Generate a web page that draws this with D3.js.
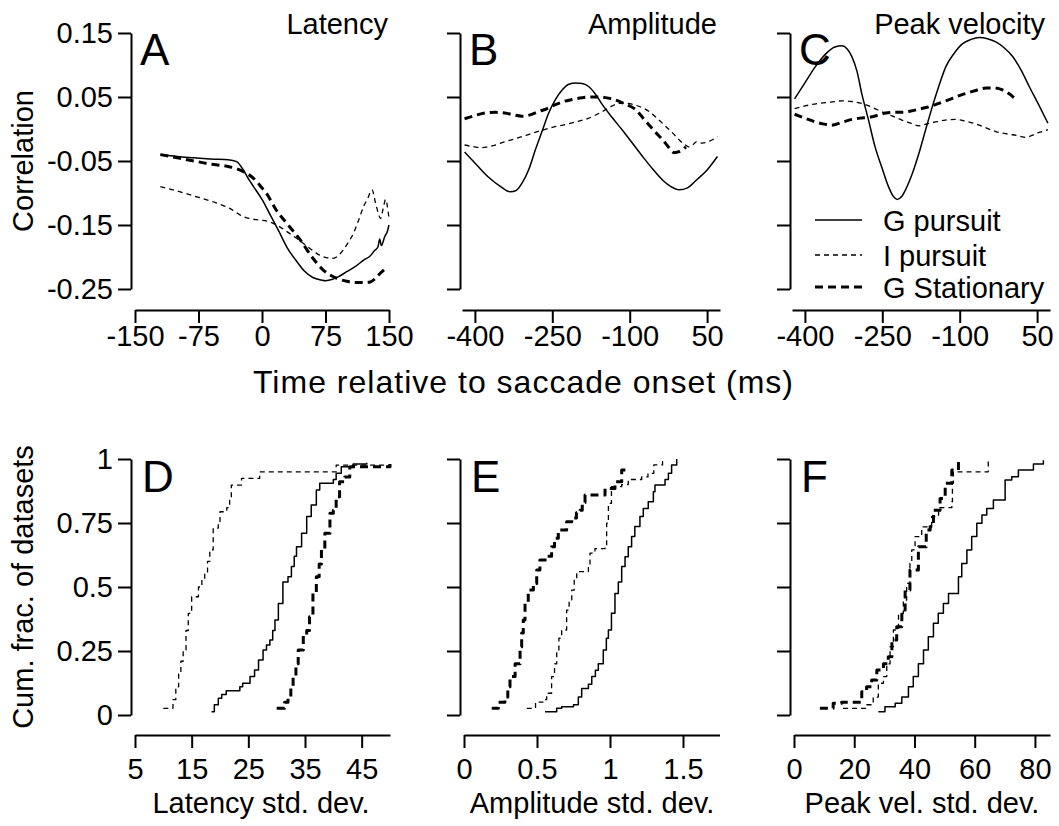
<!DOCTYPE html>
<html><head><meta charset="utf-8">
<script src="https://cdn.jsdelivr.net/npm/d3@7"></script>
<style>
body{margin:0;background:#fff;}
svg{display:block;font-family:"Liberation Sans",Arial,Helvetica,sans-serif;}
</style></head>
<body>
<svg id="chart" width="1059" height="826"></svg>
<script>
// ---------- Panel A: Latency correlation ----------
const aG_t = [-120,-100,-80,-60,-40,-30,-22,-15,-10,0,10,20,30,40,50,60,70,75,80,90,100,110,120,128,133,137,139,141,145,148,150];
const aG_r = [-0.040,-0.043,-0.045,-0.047,-0.048,-0.051,-0.064,-0.080,-0.090,-0.110,-0.135,-0.160,-0.186,-0.205,-0.222,-0.232,-0.236,-0.237,-0.236,-0.231,-0.223,-0.215,-0.205,-0.198,-0.190,-0.184,-0.172,-0.182,-0.168,-0.160,-0.150];
const aI_t = [-120,-100,-77,-55,-38,-22,-10,9,20,29,40,49,60,68,76,84,90,96,102,108,114,120,125,130,134,137,140,143,146,148,150];
const aI_r = [-0.090,-0.097,-0.106,-0.115,-0.124,-0.137,-0.141,-0.145,-0.152,-0.160,-0.170,-0.179,-0.190,-0.197,-0.201,-0.202,-0.198,-0.189,-0.177,-0.163,-0.143,-0.121,-0.108,-0.095,-0.115,-0.130,-0.140,-0.125,-0.110,-0.120,-0.140];
const aS_t = [-120,-100,-80,-60,-42,-30,-20,-10,0,5,17,29,45,59,72,88,100,112,120,128,135,140,145];
const aS_r = [-0.040,-0.045,-0.050,-0.055,-0.058,-0.062,-0.068,-0.077,-0.092,-0.100,-0.127,-0.147,-0.173,-0.200,-0.220,-0.233,-0.238,-0.240,-0.240,-0.239,-0.232,-0.225,-0.219];

// ---------- Panel B: Amplitude correlation ----------
const bG_t = [-420,-400,-374,-350,-332,-320,-309,-295,-283,-270,-257,-244,-231,-218,-205,-192,-179,-166,-153,-134,-114,-95,-75,-55,-36,-20,-4,12,29,50,70];
const bG_r = [-0.036,-0.053,-0.075,-0.090,-0.098,-0.096,-0.085,-0.062,-0.033,-0.004,0.025,0.046,0.061,0.070,0.072,0.071,0.066,0.054,0.038,0.018,-0.002,-0.022,-0.043,-0.063,-0.080,-0.090,-0.095,-0.092,-0.080,-0.064,-0.043];
const bI_t = [-420,-400,-387,-365,-342,-325,-309,-290,-270,-248,-225,-200,-179,-163,-147,-134,-121,-105,-88,-75,-62,-46,-30,-17,-4,6,15,22,29,40,52,62,70];
const bI_r = [-0.025,-0.028,-0.029,-0.026,-0.020,-0.016,-0.012,-0.007,-0.002,0.003,0.007,0.012,0.017,0.023,0.030,0.036,0.040,0.040,0.037,0.033,0.027,0.016,0.004,-0.006,-0.017,-0.024,-0.028,-0.025,-0.020,-0.022,-0.020,-0.016,-0.012];
const bS_t = [-420,-400,-380,-360,-342,-325,-309,-293,-277,-260,-244,-228,-212,-192,-173,-160,-147,-130,-114,-100,-88,-75,-62,-50,-36,-25,-14,-3,9];
const bS_r = [0.016,0.021,0.025,0.026,0.025,0.022,0.020,0.022,0.027,0.032,0.038,0.043,0.046,0.049,0.050,0.050,0.049,0.046,0.041,0.036,0.030,0.018,0.006,-0.005,-0.017,-0.028,-0.037,-0.035,-0.028];

// ---------- Panel C: Peak velocity correlation ----------
const cG_t = [-420,-400,-380,-360,-342,-328,-318,-309,-299,-290,-277,-264,-250,-238,-228,-221,-213,-205,-192,-179,-166,-153,-140,-127,-111,-95,-78,-62,-46,-30,-14,3,19,35,53,71];
const cG_r = [0.047,0.072,0.097,0.117,0.128,0.130,0.125,0.113,0.090,0.056,0.015,-0.028,-0.062,-0.090,-0.106,-0.110,-0.106,-0.095,-0.070,-0.038,-0.001,0.035,0.068,0.097,0.118,0.133,0.140,0.143,0.141,0.136,0.127,0.113,0.092,0.066,0.038,0.009];
const cI_t = [-420,-400,-374,-350,-328,-310,-290,-270,-251,-230,-212,-195,-179,-163,-147,-128,-108,-88,-69,-50,-30,-14,3,15,29,40,48,60,71];
const cI_r = [0.032,0.036,0.040,0.042,0.044,0.043,0.040,0.034,0.027,0.020,0.014,0.009,0.005,0.008,0.011,0.014,0.015,0.012,0.008,0.002,-0.004,-0.007,-0.009,-0.011,-0.013,-0.010,-0.007,-0.004,-0.001];
const cS_t = [-420,-400,-380,-365,-348,-330,-309,-293,-277,-260,-244,-228,-212,-195,-179,-163,-147,-130,-114,-98,-82,-66,-49,-33,-17,-4,9];
const cS_r = [0.023,0.017,0.011,0.008,0.006,0.010,0.015,0.017,0.018,0.021,0.025,0.026,0.026,0.028,0.031,0.034,0.038,0.043,0.048,0.053,0.057,0.061,0.064,0.064,0.061,0.055,0.046];

// ---------- Panel D: Latency std. dev. cumulative fractions ----------
const dG_x = [18.5,19.0,19.7,20.3,21.1,23.5,24.0,25.3,26.1,26.8,27.6,28.2,28.8,29.3,29.7,30.3,31.1,32.0,32.6,33.1,33.5,34.4,35.3,36.1,37.0,37.6,40.0,40.5,41.4,43.5,45.9];
const dG_f = [0.013,0.04,0.065,0.08,0.095,0.11,0.124,0.15,0.176,0.215,0.254,0.273,0.293,0.33,0.371,0.436,0.52,0.54,0.58,0.62,0.657,0.71,0.775,0.82,0.879,0.905,0.92,0.944,0.97,0.98,0.985];
const dI_x = [10.0,11.7,12.2,12.7,13.1,13.5,14.0,14.4,15.0,16.2,16.8,17.3,17.8,18.2,18.8,19.7,20.0,21.2,21.7,22.0,23.8,27.0,40.5,50];
const dI_f = [0.026,0.06,0.11,0.16,0.21,0.254,0.33,0.397,0.462,0.50,0.53,0.553,0.60,0.645,0.73,0.75,0.794,0.81,0.85,0.898,0.924,0.95,0.976,0.976];
const dS_x = [30.0,31.4,32.0,32.5,32.9,33.4,33.8,34.7,35.3,35.8,36.4,37.0,37.5,37.9,38.5,39.4,40.0,40.5,41.1,42.0,42.9,50];
const dS_f = [0.026,0.05,0.07,0.11,0.15,0.20,0.254,0.31,0.33,0.384,0.475,0.54,0.59,0.645,0.71,0.788,0.80,0.853,0.911,0.93,0.97,0.98];

// ---------- Panel E: Amplitude std. dev. cumulative fractions ----------
const eG_x = [0.555,0.635,0.669,0.75,0.783,0.806,0.852,0.875,0.9,0.92,0.954,0.975,0.989,1.01,1.034,1.057,1.08,1.103,1.125,1.148,1.17,1.205,1.228,1.262,1.297,1.308,1.377,1.4,1.422,1.457];
const eG_f = [0.013,0.026,0.032,0.04,0.07,0.104,0.12,0.15,0.175,0.2,0.254,0.3,0.332,0.397,0.475,0.52,0.58,0.618,0.657,0.697,0.736,0.775,0.807,0.833,0.872,0.898,0.92,0.944,0.977,1.0];
const eI_x = [0.43,0.49,0.54,0.566,0.6,0.62,0.635,0.65,0.669,0.703,0.72,0.738,0.755,0.772,0.852,0.863,0.897,0.966,0.977,0.989,1.01,1.08,1.125,1.217,1.26,1.3,1.36,1.37];
const eI_f = [0.026,0.05,0.06,0.085,0.15,0.2,0.254,0.3,0.332,0.41,0.45,0.488,0.53,0.56,0.585,0.632,0.65,0.66,0.749,0.827,0.892,0.90,0.92,0.93,0.944,0.977,0.99,1.0];
const eS_x = [0.19,0.235,0.28,0.30,0.315,0.35,0.384,0.395,0.406,0.418,0.44,0.475,0.498,0.52,0.566,0.6,0.62,0.646,0.703,0.738,0.77,0.795,0.81,0.829,0.966,1.034,1.08,1.125];
const eS_f = [0.026,0.05,0.07,0.11,0.15,0.20,0.267,0.32,0.371,0.436,0.488,0.514,0.566,0.605,0.62,0.657,0.69,0.723,0.755,0.77,0.79,0.80,0.83,0.859,0.885,0.911,0.957,0.957];

// ---------- Panel F: Peak vel. std. dev. cumulative fractions ----------
const fG_x = [28.0,30.2,33.6,35.8,38.0,39.6,41.3,43.0,44.6,46.3,47.9,49.6,51.3,54.6,55.7,57.4,59.0,60.7,62.4,64.0,66.2,70.1,72.3,74.5,79.5,82.8];
const fG_f = [0.013,0.032,0.046,0.07,0.11,0.15,0.2,0.254,0.306,0.358,0.397,0.436,0.475,0.54,0.592,0.645,0.697,0.749,0.781,0.807,0.84,0.918,0.931,0.957,0.98,0.995];
const fI_x = [16.3,24.2,26.3,28.0,29.7,30.8,31.9,33.0,34.7,36.3,37.4,38.5,39.1,40.2,42.4,45.7,48.0,52.4,52.6,52.9,64.5];
const fI_f = [0.026,0.04,0.07,0.124,0.15,0.2,0.267,0.332,0.397,0.449,0.514,0.592,0.645,0.697,0.735,0.775,0.81,0.833,0.905,0.95,0.99];
const fS_x = [8.6,13.0,15.8,22.5,24.1,25.8,27.5,29.7,31.3,32.5,34.1,35.8,36.9,38.5,41.3,43.9,45.2,46.3,48.5,50.2,52.4,54.6];
const fS_f = [0.026,0.046,0.05,0.091,0.11,0.137,0.176,0.20,0.228,0.293,0.345,0.41,0.488,0.566,0.657,0.723,0.736,0.80,0.846,0.905,0.957,0.99];

// ---------- Ticks and labels ----------
const corrTicks = [-0.25,-0.15,-0.05,0.05,0.15];
const latTimeTicks = [-150,-75,0,75,150];
const timeTicks = [-400,-250,-100,50];
const fracTicks = [0,0.25,0.5,0.75,1];
const latSdTicks = [5,15,25,35,45];
const ampSdTicks = [0,0.5,1,1.5];
const velSdTicks = [0,20,40,60,80];
const seriesNames = ["G pursuit","I pursuit","G Stationary"];
const panelLetters = ["A","B","C","D","E","F"];
const panelTitles = ["Latency","Amplitude","Peak velocity"];
const bottomTitles = ["Latency std. dev.","Amplitude std. dev.","Peak vel. std. dev."];

// ---------- Drawing ----------
const svg = d3.select("#chart");
const FONT = 29;
const styles = [
  {w:1.5, dash:null},
  {w:1.3, dash:"5,4"},
  {w:3, dash:"8,5"}
];

function fmtTick(v){
  if (v === 0) return "0";
  if (v === 1) return "1";
  return String(v);
}

function drawAxes(xs, ys, xTicks, yTicks, xAxisY, yAxisX, showYLabels, xPad){
  const gx = svg.append("g").attr("transform", `translate(0,${xAxisY})`)
    .call(d3.axisBottom(xs).tickValues(xTicks).tickSize(13).tickSizeOuter(0).tickPadding(xPad).tickFormat(fmtTick));
  const gy = svg.append("g").attr("transform", `translate(${yAxisX},0)`)
    .call(d3.axisLeft(ys).tickValues(yTicks).tickSize(13).tickSizeOuter(0).tickPadding(5)
      .tickFormat(showYLabels ? fmtTick : () => ""));
  [gx, gy].forEach(g => {
    g.select(".domain").attr("stroke", "#000").attr("stroke-width", 2);
    g.selectAll(".tick line").attr("stroke", "#000").attr("stroke-width", 2);
    g.selectAll(".tick text").attr("fill", "#000").style("font-size", FONT + "px")
      .style("font-family", '"Liberation Sans",Arial,Helvetica,sans-serif');
  });
}

function drawSeries(xs, ys, xv, yv, st, curve){
  const pts = xv.map((x, i) => [x, yv[i]]);
  const line = d3.line().x(d => xs(d[0])).y(d => ys(d[1])).curve(curve);
  svg.append("path").attr("d", line(pts)).attr("fill", "none")
    .attr("stroke", "#000").attr("stroke-width", st.w)
    .attr("stroke-dasharray", st.dash).attr("stroke-linejoin", "round");
}

// Top row
const yCorr = d3.scaleLinear().domain([-0.25, 0.15]).range([289, 33]);
const topX = [
  d3.scaleLinear().domain([-150, 150]).range([135, 389]),
  d3.scaleLinear().domain([-425, 75]).range([462, 720]),
  d3.scaleLinear().domain([-425, 75]).range([792, 1050])
];
const topYAxisX = [131, 460, 790];
const topData = [
  [[aG_t,aG_r],[aI_t,aI_r],[aS_t,aS_r]],
  [[bG_t,bG_r],[bI_t,bI_r],[bS_t,bS_r]],
  [[cG_t,cG_r],[cI_t,cI_r],[cS_t,cS_r]]
];
const topTicks = [latTimeTicks, timeTicks, timeTicks];
const titleRight = [388, 717, 1045];
for (let p = 0; p < 3; p++){
  drawAxes(topX[p], yCorr, topTicks[p], corrTicks, 310, topYAxisX[p], p === 0, 2);
  topData[p].forEach((s, k) => drawSeries(topX[p], yCorr, s[0], s[1], styles[k], d3.curveMonotoneX));
  svg.append("text").attr("x", titleRight[p]).attr("y", 34).attr("text-anchor", "end")
    .style("font-size", FONT + "px").text(panelTitles[p]);
  svg.append("text").attr("x", topYAxisX[p] + 9).attr("y", 65)
    .style("font-size", "44px").text(panelLetters[p]);
}

// Bottom row
const yFrac = d3.scaleLinear().domain([0, 1]).range([715, 459]);
const botX = [
  d3.scaleLinear().domain([5, 50]).range([135, 390]),
  d3.scaleLinear().domain([0, 1.75]).range([464, 719.5]),
  d3.scaleLinear().domain([0, 85]).range([794, 1050])
];
const botYAxisX = [131, 460, 790];
const botData = [
  [[dG_x,dG_f],[dI_x,dI_f],[dS_x,dS_f]],
  [[eG_x,eG_f],[eI_x,eI_f],[eS_x,eS_f]],
  [[fG_x,fG_f],[fI_x,fI_f],[fS_x,fS_f]]
];
const botTicks = [latSdTicks, ampSdTicks, velSdTicks];
const botTitleX = [261, 592, 922];
for (let p = 0; p < 3; p++){
  drawAxes(botX[p], yFrac, botTicks[p], fracTicks, 735, botYAxisX[p], p === 0, 10);
  botData[p].forEach((s, k) => drawSeries(botX[p], yFrac, s[0], s[1], styles[k], d3.curveStepAfter));
  svg.append("text").attr("x", botYAxisX[p] + 11).attr("y", 492)
    .style("font-size", "44px").text(panelLetters[p + 3]);
  svg.append("text").attr("x", botTitleX[p]).attr("y", 813).attr("text-anchor", "middle")
    .style("font-size", FONT + "px").text(bottomTitles[p]);
}

// Axis titles
svg.append("text").attr("x", 523).attr("y", 393).attr("text-anchor", "middle")
  .attr("textLength", 540).attr("lengthAdjust", "spacing")
  .style("font-size", "32px").text("Time relative to saccade onset (ms)");
svg.append("text").attr("transform", "translate(33,161) rotate(-90)").attr("text-anchor", "middle")
  .style("font-size", FONT + "px").text("Correlation");
svg.append("text").attr("transform", "translate(33,587) rotate(-90)").attr("text-anchor", "middle")
  .style("font-size", FONT + "px").text("Cum. frac. of datasets");

// Legend (panel C)
const legY = [220, 255, 287];
seriesNames.forEach((name, k) => {
  svg.append("line").attr("x1", 815).attr("x2", 862).attr("y1", legY[k]).attr("y2", legY[k])
    .attr("stroke", "#000").attr("stroke-width", styles[k].w).attr("stroke-dasharray", styles[k].dash);
  svg.append("text").attr("x", 883).attr("y", legY[k] + 11)
    .style("font-size", FONT + "px").text(name);
});
</script>
</body></html>
